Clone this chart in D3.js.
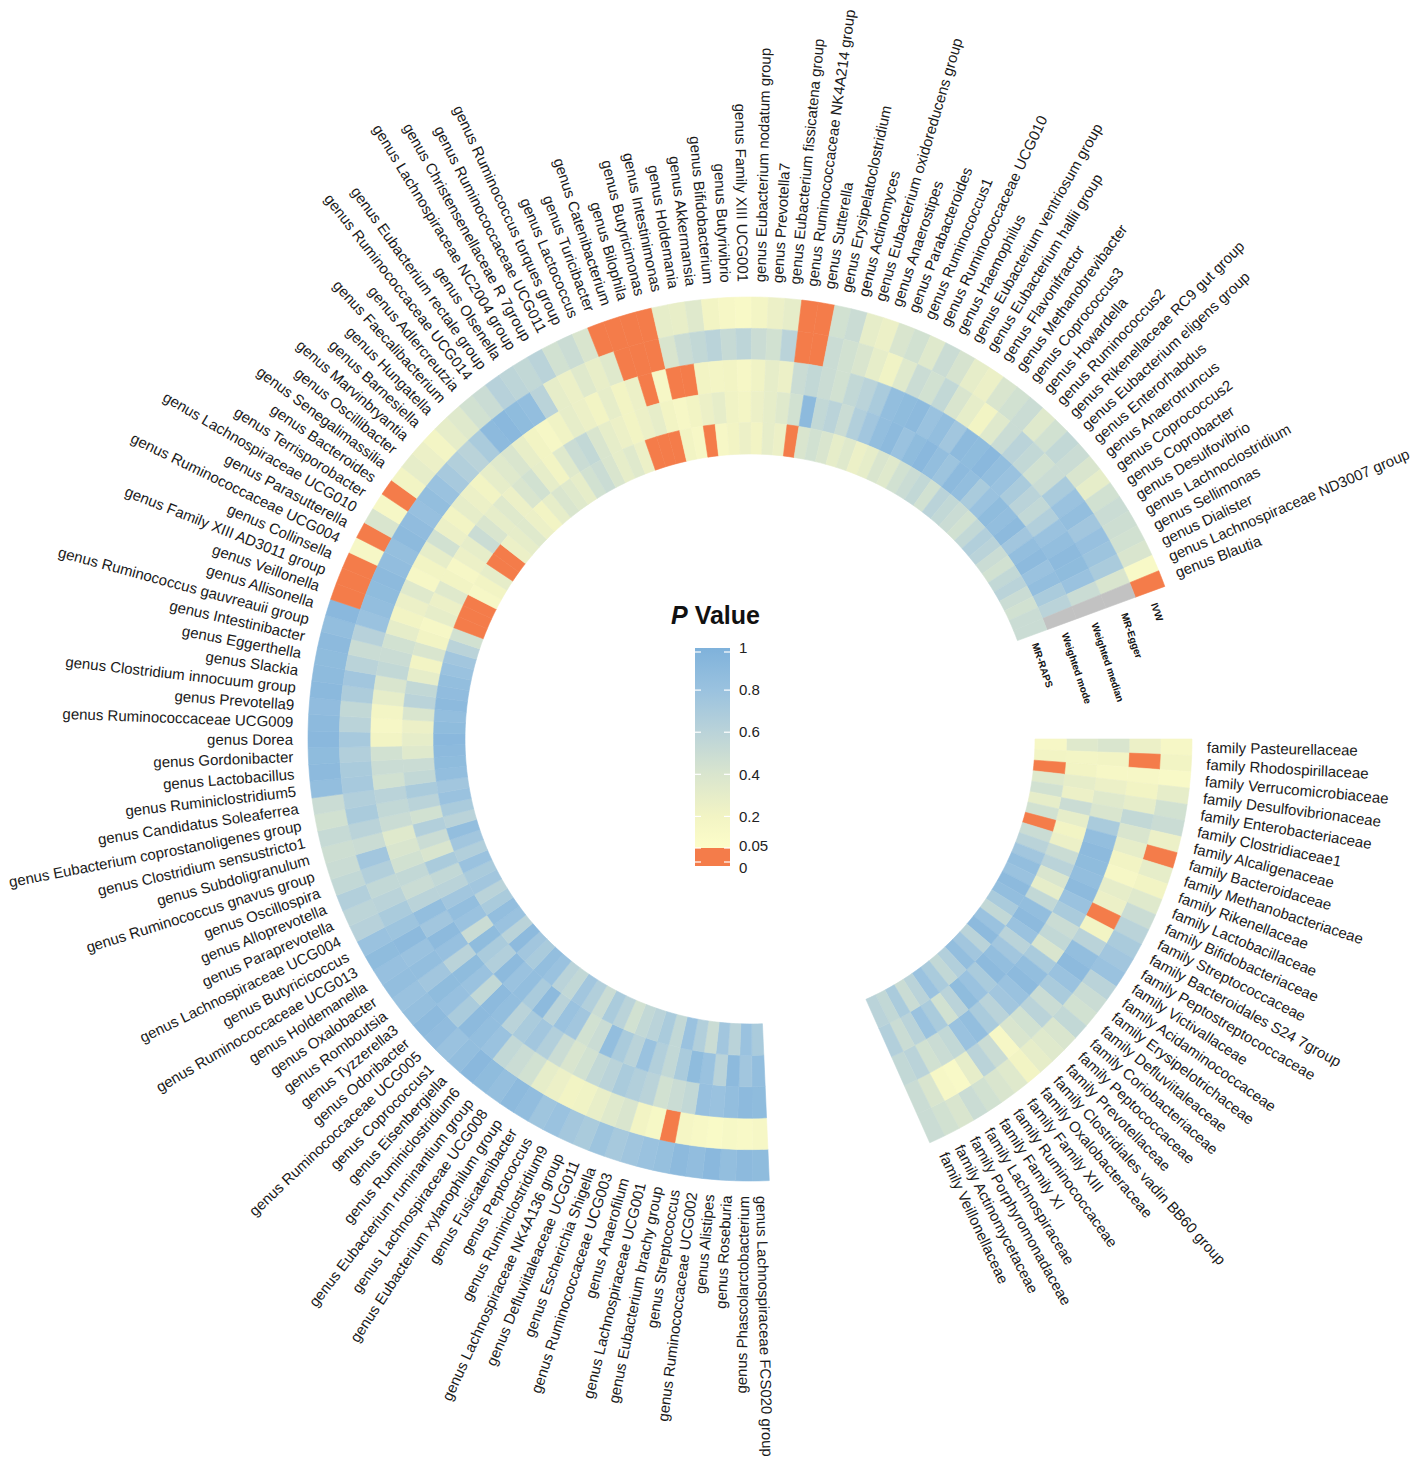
<!DOCTYPE html>
<html>
<head>
<meta charset="utf-8">
<script src="https://cdn.jsdelivr.net/npm/d3@7"></script>
<style>
  body { margin: 0; background: #fff; }
  text { font-family: "Liberation Sans", Arial, sans-serif; }
</style>
</head>
<body>
<div id="chart"></div>
<script>
// Methods, outer ring first
const methods = ["IVW", "MR-Egger", "Weighted median", "Weighted mode", "MR-RAPS"];

const genusNames = [
  "genus Lachnospiraceae FCS020 group", "genus Phascolarctobacterium", "genus Roseburia", "genus Alistipes",
  "genus Ruminococcaceae UCG002", "genus Streptococcus", "genus Eubacterium brachy group", "genus Lachnospiraceae UCG001",
  "genus Anaerofilum", "genus Ruminococcaceae UCG003", "genus Escherichia Shigella", "genus Defluviitaleaceae UCG011",
  "genus Lachnospiraceae NK4A136 group", "genus Ruminiclostridium9", "genus Peptococcus", "genus Fusicatenibacter",
  "genus Eubacterium xylanophilum group", "genus Lachnospiraceae UCG008", "genus Eubacterium ruminantium group", "genus Ruminiclostridium6",
  "genus Eisenbergiella", "genus Coprococcus1", "genus Ruminococcaceae UCG005", "genus Odoribacter",
  "genus Tyzzerella3", "genus Romboutsia", "genus Oxalobacter", "genus Holdemanella",
  "genus Ruminococcaceae UCG013", "genus Butyricicoccus", "genus Lachnospiraceae UCG004", "genus Paraprevotella",
  "genus Alloprevotella", "genus Oscillospira", "genus Ruminococcus gnavus group", "genus Subdoligranulum",
  "genus Clostridium sensustricto1", "genus Eubacterium coprostanoligenes group", "genus Candidatus Soleaferrea", "genus Ruminiclostridium5",
  "genus Lactobacillus", "genus Gordonibacter", "genus Dorea", "genus Ruminococcaceae UCG009",
  "genus Prevotella9", "genus Clostridium innocuum group", "genus Slackia", "genus Eggerthella",
  "genus Intestinibacter", "genus Ruminococcus gauvreauii group", "genus Allisonella", "genus Veillonella",
  "genus Family XIII AD3011 group", "genus Collinsella", "genus Ruminococcaceae UCG004", "genus Parasutterella",
  "genus Lachnospiraceae UCG010", "genus Terrisporobacter", "genus Bacteroides", "genus Senegalimassilia",
  "genus Oscillibacter", "genus Marvinbryantia", "genus Barnesiella", "genus Hungatella",
  "genus Faecalibacterium", "genus Adlercreutzia", "genus Ruminococcaceae UCG014", "genus Eubacterium rectale group",
  "genus Olsenella", "genus Lachnospiraceae NC2004 group", "genus Christensenellaceae R 7group", "genus Ruminococcaceae UCG011",
  "genus Ruminococcus torques group", "genus Lactococcus", "genus Turicibacter", "genus Catenibacterium",
  "genus Bilophila", "genus Butyricimonas", "genus Intestinimonas", "genus Holdemania",
  "genus Akkermansia", "genus Bifidobacterium", "genus Butyrivibrio", "genus Family XIII UCG001",
  "genus Eubacterium nodatum group", "genus Prevotella7", "genus Eubacterium fissicatena group", "genus Ruminococcaceae NK4A214 group",
  "genus Sutterella", "genus Erysipelatoclostridium", "genus Actinomyces", "genus Eubacterium oxidoreducens group",
  "genus Anaerostipes", "genus Parabacteroides", "genus Ruminococcus1", "genus Ruminococcaceae UCG010",
  "genus Haemophilus", "genus Eubacterium ventriosum group", "genus Eubacterium hallii group", "genus Flavonifractor",
  "genus Methanobrevibacter", "genus Coprococcus3", "genus Howardella", "genus Ruminococcus2",
  "genus Rikenellaceae RC9 gut group", "genus Eubacterium eligens group", "genus Enterorhabdus", "genus Anaerotruncus",
  "genus Coprococcus2", "genus Coprobacter", "genus Desulfovibrio", "genus Lachnoclostridium",
  "genus Sellimonas", "genus Dialister", "genus Lachnospiraceae ND3007 group", "genus Blautia"
];

const familyNames = [
  "family Pasteurellaceae", "family Rhodospirillaceae", "family Verrucomicrobiaceae", "family Desulfovibrionaceae",
  "family Enterobacteriaceae", "family Clostridiaceae1", "family Alcaligenaceae", "family Bacteroidaceae",
  "family Methanobacteriaceae", "family Rikenellaceae", "family Lactobacillaceae", "family Bifidobacteriaceae",
  "family Streptococcaceae", "family Bacteroidales S24 7group", "family Peptostreptococcaceae", "family Victivallaceae",
  "family Acidaminococcaceae", "family Erysipelotrichaceae", "family Defluviitaleaceae", "family Coriobacteriaceae",
  "family Peptococcaceae", "family Prevotellaceae", "family Clostridiales vadin BB60 group", "family Oxalobacteraceae",
  "family Family XIII", "family Ruminococcaceae", "family Family XI", "family Lachnospiraceae",
  "family Porphyromonadaceae", "family Actinomycetaceae", "family Veillonellaceae"
];

// P values per method (null = not available)
const genusIVW = [
  0.88,0.9,0.85,0.92,0.86,0.9,0.83,0.8,0.76,0.72,
  0.78,0.7,0.74,0.8,0.77,0.86,0.9,0.84,0.88,0.92,
  0.85,0.8,0.87,0.9,0.84,0.8,0.85,0.82,0.88,0.8,
  0.62,0.58,0.65,0.55,0.5,0.48,0.52,0.45,0.5,0.85,
  0.9,0.88,0.92,0.9,0.87,0.91,0.89,0.88,0.9,0.85,
  0.92,0.02,0.01,0.03,0.15,0.02,0.4,0.15,0.02,0.2,
  0.3,0.25,0.18,0.3,0.35,0.45,0.5,0.62,0.58,0.55,
  0.6,0.45,0.5,0.4,0.02,0.01,0.02,0.03,0.3,0.28,
  0.35,0.2,0.15,0.12,0.18,0.25,0.3,0.02,0.01,0.45,
  0.5,0.3,0.25,0.4,0.45,0.35,0.5,0.42,0.3,0.25,
  0.4,0.45,0.5,0.35,0.45,0.55,0.5,0.4,0.3,0.45,
  0.5,0.48,0.45,0.4,0.12,0.02
];
const genusEgger = [
  0.15,0.12,0.14,0.1,0.13,0.16,0.02,0.14,0.2,0.4,
  0.35,0.28,0.22,0.2,0.25,0.3,0.45,0.5,0.55,0.8,
  0.85,0.9,0.7,0.82,0.88,0.75,0.85,0.8,0.9,0.78,
  0.7,0.6,0.55,0.65,0.75,0.5,0.6,0.7,0.65,0.72,
  0.7,0.65,0.72,0.6,0.55,0.68,0.75,0.6,0.5,0.62,
  0.8,0.85,0.88,0.9,0.86,0.84,0.9,0.87,0.82,0.85,
  0.8,0.72,0.65,0.6,0.7,0.9,0.92,0.88,0.85,0.6,
  0.3,0.25,0.35,0.28,0.35,0.02,0.01,0.03,0.4,0.5,
  0.55,0.6,0.52,0.58,0.5,0.45,0.6,0.02,0.01,0.5,
  0.45,0.4,0.3,0.22,0.35,0.5,0.45,0.55,0.4,0.3,
  0.2,0.35,0.5,0.6,0.55,0.45,0.5,0.7,0.8,0.85,
  0.75,0.82,0.78,0.7,0.4,null
];
const genusWMedian = [
  0.88,0.9,0.85,0.8,0.82,0.55,0.5,0.45,0.6,0.65,
  0.7,0.6,0.55,0.45,0.4,0.5,0.65,0.75,0.7,0.6,
  0.85,0.9,0.55,0.8,0.88,0.6,0.82,0.9,0.75,0.85,
  0.6,0.5,0.55,0.45,0.4,0.35,0.5,0.55,0.6,0.45,
  0.5,0.45,0.2,0.15,0.18,0.3,0.4,0.55,0.5,0.45,
  0.3,0.2,0.25,0.35,0.15,0.2,0.3,0.45,0.25,0.2,
  0.3,0.25,0.2,0.3,0.35,0.4,0.28,0.2,0.15,0.22,
  0.3,0.25,0.2,0.3,0.2,0.25,0.02,0.15,0.02,0.01,
  0.2,0.18,0.2,0.15,0.22,0.3,0.25,0.5,0.55,0.5,
  0.45,0.55,0.6,0.7,0.85,0.88,0.9,0.8,0.85,0.75,
  0.9,0.88,0.92,0.85,0.8,0.7,0.6,0.55,0.65,0.8,
  0.85,0.9,0.88,0.8,0.5,null
];
const genusWMode = [
  0.85,0.75,0.9,0.6,0.8,0.88,0.7,0.55,0.65,0.8,
  0.6,0.7,0.85,0.5,0.45,0.75,0.8,0.6,0.9,0.7,
  0.85,0.8,0.9,0.65,0.7,0.88,0.5,0.8,0.85,0.75,
  0.6,0.55,0.7,0.4,0.5,0.65,0.45,0.6,0.7,0.55,
  0.5,0.35,0.3,0.25,0.4,0.6,0.55,0.3,0.2,0.4,
  0.2,0.15,0.3,0.25,0.35,0.2,0.15,0.25,0.3,0.5,
  0.4,0.3,0.35,0.25,0.4,0.45,0.3,0.2,0.35,0.5,
  0.55,0.4,0.3,0.25,0.2,0.25,0.3,0.2,0.15,0.2,
  0.25,0.3,0.22,0.18,0.25,0.3,0.35,0.45,0.9,0.55,
  0.6,0.5,0.65,0.75,0.85,0.9,0.8,0.88,0.92,0.85,
  0.78,0.9,0.85,0.7,0.8,0.88,0.85,0.9,0.75,0.85,
  0.9,0.8,0.85,0.7,0.6,null
];
const genusRAPS = [
  0.7,0.8,0.6,0.75,0.5,0.65,0.8,0.55,0.7,0.6,
  0.55,0.45,0.6,0.7,0.5,0.65,0.75,0.55,0.6,0.8,
  0.85,0.7,0.75,0.9,0.6,0.8,0.85,0.7,0.6,0.75,
  0.7,0.8,0.65,0.75,0.85,0.6,0.7,0.8,0.75,0.85,
  0.88,0.9,0.92,0.88,0.85,0.9,0.87,0.85,0.8,0.75,
  0.6,0.45,0.02,0.01,0.03,0.15,0.2,0.3,0.02,0.01,
  0.25,0.3,0.35,0.25,0.2,0.3,0.4,0.35,0.3,0.45,
  0.5,0.4,0.3,0.35,0.25,0.02,0.01,0.03,0.2,0.15,
  0.02,0.15,0.2,0.25,0.2,0.3,0.25,0.02,0.4,0.45,
  0.4,0.3,0.35,0.25,0.3,0.4,0.35,0.45,0.5,0.55,
  0.45,0.6,0.55,0.5,0.45,0.55,0.65,0.6,0.5,0.45,
  0.55,0.6,0.5,0.45,0.5,0.5
];

const familyIVW = [0.15,0.2,0.12,0.3,0.45,0.5,0.25,0.02,0.3,0.2,0.35,0.5,0.6,0.7,
  0.75,0.8,0.6,0.5,0.45,0.55,0.4,0.35,0.3,0.2,0.35,0.4,0.45,0.5,0.4,0.45,0.5];
const familyEgger = [0.25,0.02,0.15,0.2,0.3,0.55,0.4,0.3,0.2,0.15,0.3,0.25,0.02,0.2,
  0.6,0.85,0.9,0.8,0.7,0.5,0.6,0.45,0.4,0.15,0.5,0.6,0.3,0.12,0.15,0.4,0.5];
const familyWMedian = [0.4,0.2,0.15,0.25,0.35,0.4,0.7,0.85,0.9,0.88,0.85,0.9,0.8,0.7,
  0.5,0.55,0.4,0.7,0.85,0.9,0.8,0.75,0.6,0.7,0.85,0.8,0.55,0.5,0.45,0.6,0.55];
const familyWMode = [0.35,0.18,0.2,0.3,0.25,0.5,0.3,0.2,0.25,0.5,0.6,0.4,0.3,0.55,
  0.85,0.9,0.8,0.6,0.75,0.85,0.9,0.7,0.8,0.88,0.6,0.45,0.7,0.8,0.6,0.5,0.65];
const familyRAPS = [0.15,0.2,0.02,0.35,0.45,0.3,0.45,0.02,0.5,0.6,0.75,0.85,0.8,0.9,
  0.85,0.7,0.55,0.8,0.9,0.6,0.75,0.85,0.65,0.55,0.7,0.8,0.6,0.5,0.7,0.55,0.6];

const legendTicks = [1, 0.8, 0.6, 0.4, 0.2, 0.05, 0];

// ---- layout ----
const width = 1417, height = 1465;
const cx = 750, cy = 739;
const rInner = 285, rOuter = 442, rLabel = 457;
const rad = d => d * Math.PI / 180;

const svg = d3.select("#chart").append("svg")
  .attr("width", width).attr("height", height);
const g = svg.append("g").attr("transform", `translate(${cx},${cy})`);

// ring per method (outer = IVW)
const ring = d3.scaleBand().domain(methods).range([rOuter, rInner]);

// angular scales for the two sectors
const genusAngle = d3.scaleBand().domain(genusNames).range([rad(177.5), rad(429.8)]);
const familyAngle = d3.scaleBand().domain(familyNames).range([rad(90), rad(156)]);

// colour
const pColor = d3.scaleLinear()
  .domain([0.05, 0.2, 0.4, 0.6, 0.8, 1])
  .range(["#fdfdc9", "#f2f4c4", "#d9e5ce", "#bad3d9", "#9ac2df", "#7fb2db"])
  .clamp(true);
const fill = p => p == null ? "#c2c2c2" : (p < 0.05 ? "#f47c4a" : pColor(p));

const arc = d3.arc();

function buildCells(names, angle, series) {
  const cells = [];
  methods.forEach((m, k) => {
    names.forEach((n, i) => {
      cells.push({ name: n, method: m, p: series[k][i], a0: angle(n), a1: angle(n) + angle.bandwidth() });
    });
  });
  return cells;
}

const cells = buildCells(genusNames, genusAngle, [genusIVW, genusEgger, genusWMedian, genusWMode, genusRAPS])
  .concat(buildCells(familyNames, familyAngle, [familyIVW, familyEgger, familyWMedian, familyWMode, familyRAPS]));

g.append("g").selectAll("path")
  .data(cells)
  .join("path")
  .attr("d", d => arc({
    innerRadius: ring(d.method),
    outerRadius: ring(d.method) + ring.bandwidth(),
    startAngle: d.a0,
    endAngle: d.a1
  }))
  .attr("fill", d => fill(d.p))
  .attr("stroke", d => fill(d.p))
  .attr("stroke-width", 0.6);

// radial labels
function addLabels(names, angle) {
  g.append("g").selectAll("text")
    .data(names)
    .join("text")
    .each(function (d) {
      const a = angle(d) + angle.bandwidth() / 2;
      const deg = ((a * 180 / Math.PI) % 360 + 360) % 360;
      const [x, y] = d3.pointRadial(a, rLabel);
      const right = deg < 180;
      d3.select(this)
        .attr("transform", `translate(${x},${y}) rotate(${right ? deg - 90 : deg + 90})`)
        .attr("text-anchor", right ? "start" : "end");
    })
    .attr("dy", "0.35em")
    .style("font-size", "15px")
    .style("fill", "#1a1a1a")
    .text(d => d);
}
addLabels(genusNames, genusAngle);
addLabels(familyNames, familyAngle);

// method names in the gap after the genus sector
const trackAngle = rad(71.4);
g.append("g").selectAll("text")
  .data(methods)
  .join("text")
  .attr("transform", d => {
    const [x, y] = d3.pointRadial(trackAngle, ring(d) + ring.bandwidth() / 2);
    return `translate(${x},${y}) rotate(71.4)`;
  })
  .attr("dy", "0.35em")
  .style("font-size", "10px")
  .style("font-weight", "bold")
  .style("fill", "#111")
  .text(d => d);

// ---- legend ----
const lx = 695, lw = 35;
const ly = d3.scaleLinear().domain([0, 0.05, 1]).range([866, 848, 648]);

const defs = svg.append("defs");
const grad = defs.append("linearGradient").attr("id", "pgrad")
  .attr("x1", 0).attr("y1", 1).attr("x2", 0).attr("y2", 0);
pColor.domain().forEach(v => {
  grad.append("stop")
    .attr("offset", (v - 0.05) / 0.95)
    .attr("stop-color", pColor(v));
});

const legend = svg.append("g");
legend.append("rect")
  .attr("x", lx).attr("y", ly(1)).attr("width", lw).attr("height", ly(0.05) - ly(1))
  .attr("fill", "url(#pgrad)");
legend.append("rect")
  .attr("x", lx).attr("y", ly(0.05)).attr("width", lw).attr("height", ly(0) - ly(0.05))
  .attr("fill", fill(0.01));

legend.selectAll("line.tl")
  .data(legendTicks)
  .join("line")
  .attr("class", "tl")
  .attr("x1", lx).attr("x2", lx + 6)
  .attr("y1", d => ly(d) + (d === 1 ? 4 : d === 0 ? -4 : 0))
  .attr("y2", d => ly(d) + (d === 1 ? 4 : d === 0 ? -4 : 0))
  .attr("stroke", "#fff").attr("stroke-width", 1.2);
legend.selectAll("line.tr")
  .data(legendTicks)
  .join("line")
  .attr("class", "tr")
  .attr("x1", lx + lw - 6).attr("x2", lx + lw)
  .attr("y1", d => ly(d) + (d === 1 ? 4 : d === 0 ? -4 : 0))
  .attr("y2", d => ly(d) + (d === 1 ? 4 : d === 0 ? -4 : 0))
  .attr("stroke", "#fff").attr("stroke-width", 1.2);

legend.selectAll("text.tick")
  .data(legendTicks)
  .join("text")
  .attr("class", "tick")
  .attr("x", lx + lw + 9)
  .attr("y", d => d === 0 ? ly(d) + 2 : d === 0.05 ? ly(d) - 2 : ly(d))
  .attr("dy", "0.35em")
  .style("font-size", "15px")
  .style("fill", "#222")
  .text(d => d === 1 ? "1" : d === 0 ? "0" : String(d));

const title = legend.append("text")
  .attr("x", 671).attr("y", 624)
  .style("font-size", "25px")
  .style("font-weight", "bold")
  .style("fill", "#111");
title.append("tspan").style("font-style", "italic").text("P");
title.append("tspan").text(" Value");
</script>
</body>
</html>
